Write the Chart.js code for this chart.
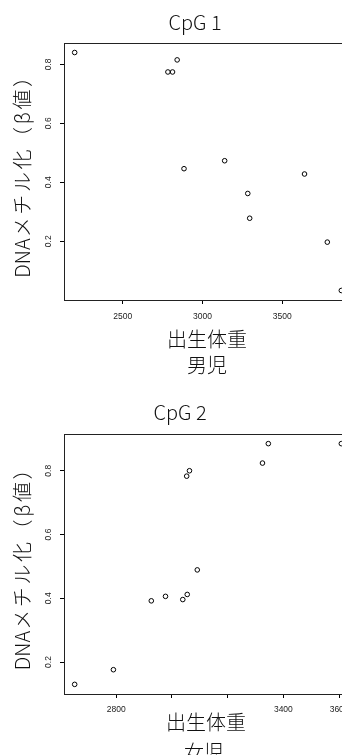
<!DOCTYPE html>
<html>
<head>
<meta charset="utf-8">
<script src="https://cdn.jsdelivr.net/npm/chart.js@4.4.1/dist/chart.umd.min.js"></script>
<style>
  html, body { margin: 0; padding: 0; background: #fff; overflow: hidden; width: 342px; height: 755px; }
  .wrap { position: absolute; left: 0; width: 360px; }
</style>
</head>
<body>
<div class="wrap" style="top:0;height:378px"><canvas id="cpg1" width="360" height="378"></canvas></div>
<div class="wrap" style="top:378px;height:377px"><canvas id="cpg2" width="360" height="377"></canvas></div>
<script>
// CpG 1 - boys
const boysWeight = [2198, 2783, 2812, 2841, 2884, 3139, 3284, 3296, 3640, 3783, 3871];
const boysBeta   = [0.840, 0.774, 0.774, 0.815, 0.446, 0.473, 0.362, 0.278, 0.428, 0.197, 0.033];
// CpG 2 - girls
const girlsWeight = [2651, 2790, 2926, 2977, 3039, 3055, 3091, 3053, 3063, 3325, 3346, 3608];
const girlsBeta   = [0.130, 0.176, 0.392, 0.406, 0.396, 0.412, 0.489, 0.783, 0.800, 0.824, 0.885, 0.885];

const yTicks = [0.2, 0.4, 0.6, 0.8];
const boysXTicks = [2500, 3000, 3500];
const boysXLabels = [2500, 3000, 3500];
const girlsXTicks = [2800, 3000, 3200, 3400, 3600];
const girlsXLabels = [2800, 3400, 3600];

const yTitle = 'DNAメチル化（β値）';
const xTitle = '出生体重';

// R style axis range: data range plus 4% on each side
function rRange(vals) {
  const lo = Math.min(...vals), hi = Math.max(...vals);
  const pad = (hi - lo) * 0.04;
  return [lo - pad, hi + pad];
}

const rPlot = {
  id: 'rPlot',
  afterDraw(chart, args, o) {
    const ctx = chart.ctx;
    const { left, top, right, bottom } = chart.chartArea;
    ctx.save();
    ctx.strokeStyle = '#222';
    ctx.lineWidth = 1;
    ctx.strokeRect(left + 0.5, top + 0.5, right - left, bottom - top);

    // y tick labels, rotated like R (las = 0)
    const ys = chart.scales.y;
    ctx.fillStyle = '#222';
    ctx.font = '8.5px "Liberation Sans", Arial, sans-serif';
    ctx.textAlign = 'center';
    ctx.textBaseline = 'alphabetic';
    ys.ticks.forEach(t => {
      const py = ys.getPixelForValue(t.value);
      ctx.save();
      ctx.translate(51, py);
      ctx.rotate(-Math.PI / 2);
      ctx.fillText(String(t.value), 0, 0);
      ctx.restore();
    });

    ctx.fillStyle = '#111';
    ctx.font = '300 20px "Noto Sans CJK JP", sans-serif';
    ctx.fillText(o.title, o.titleX, o.titleY);
    ctx.fillText(xTitle, o.xlabX, o.xlabY);
    ctx.fillText(o.sub, o.subX, o.subY);

    // y title: latin part tight, japanese part a little wider (full-width look)
    ctx.save();
    ctx.translate(30, (top + bottom) / 2);
    ctx.rotate(-Math.PI / 2);
    ctx.textAlign = 'left';
    const head = yTitle.slice(0, 3), tail = yTitle.slice(3);
    const wHead = ctx.measureText(head).width;
    ctx.letterSpacing = '2.6px';
    const wTail = ctx.measureText(tail).width;
    const x0 = -(wHead + wTail) / 2;
    ctx.letterSpacing = '0px';
    ctx.fillText(head, x0, 0);
    ctx.letterSpacing = '2.6px';
    ctx.fillText(tail, x0 + wHead + 1, 0);
    ctx.restore();
    ctx.restore();
  }
};

function makeChart(id, xs, ys, xTicks, xLabels, layout, text) {
  const [xmin, xmax] = rRange(xs);
  const [ymin, ymax] = rRange(ys);
  return new Chart(document.getElementById(id), {
    type: 'scatter',
    data: {
      datasets: [{
        data: xs.map((x, i) => ({ x: x, y: ys[i] })),
        pointStyle: 'circle',
        pointRadius: 2.3,
        pointHoverRadius: 2.3,
        borderWidth: 1,
        borderColor: '#000',
        backgroundColor: 'rgba(0,0,0,0)'
      }]
    },
    options: {
      responsive: false,
      animation: false,
      events: [],
      layout: { padding: { top: layout.top, left: 0, right: layout.right, bottom: 0 } },
      plugins: {
        legend: { display: false },
        tooltip: { enabled: false },
        rPlot: text
      },
      scales: {
        x: {
          type: 'linear',
          min: xmin,
          max: xmax,
          afterBuildTicks: s => { s.ticks = xTicks.map(v => ({ value: v })); },
          afterFit: s => { s.height = layout.xHeight; },
          border: { display: false },
          grid: { drawOnChartArea: false, drawTicks: true, tickLength: 4, color: '#000' },
          ticks: {
            autoSkip: false,
            maxRotation: 0,
            padding: layout.tickPad,
            color: '#222',
            font: { size: 8.5, family: '"Liberation Sans", Arial, sans-serif' },
            callback: v => xLabels.includes(v) ? String(v) : ''
          }
        },
        y: {
          type: 'linear',
          min: ymin,
          max: ymax,
          afterBuildTicks: s => { s.ticks = yTicks.map(v => ({ value: v })); },
          afterFit: s => { s.width = 64; },
          border: { display: false },
          grid: { drawOnChartArea: false, drawTicks: true, tickLength: 4, color: '#000' },
          ticks: { display: false }
        }
      }
    },
    plugins: [rPlot]
  });
}

makeChart('cpg1', boysWeight, boysBeta, boysXTicks, boysXLabels,
  { top: 43, right: 8, xHeight: 78, tickPad: 8 },
  { title: 'CpG 1', titleX: 195, titleY: 30, xlabX: 207, xlabY: 347, sub: '男児', subX: 207, subY: 373 });

makeChart('cpg2', girlsWeight, girlsBeta, girlsXTicks, girlsXLabels,
  { top: 56, right: 8, xHeight: 61, tickPad: 7 },
  { title: 'CpG 2', titleX: 180, titleY: 42, xlabX: 206, xlabY: 352, sub: '女児', subX: 204, subY: 382 });
</script>
</body>
</html>
